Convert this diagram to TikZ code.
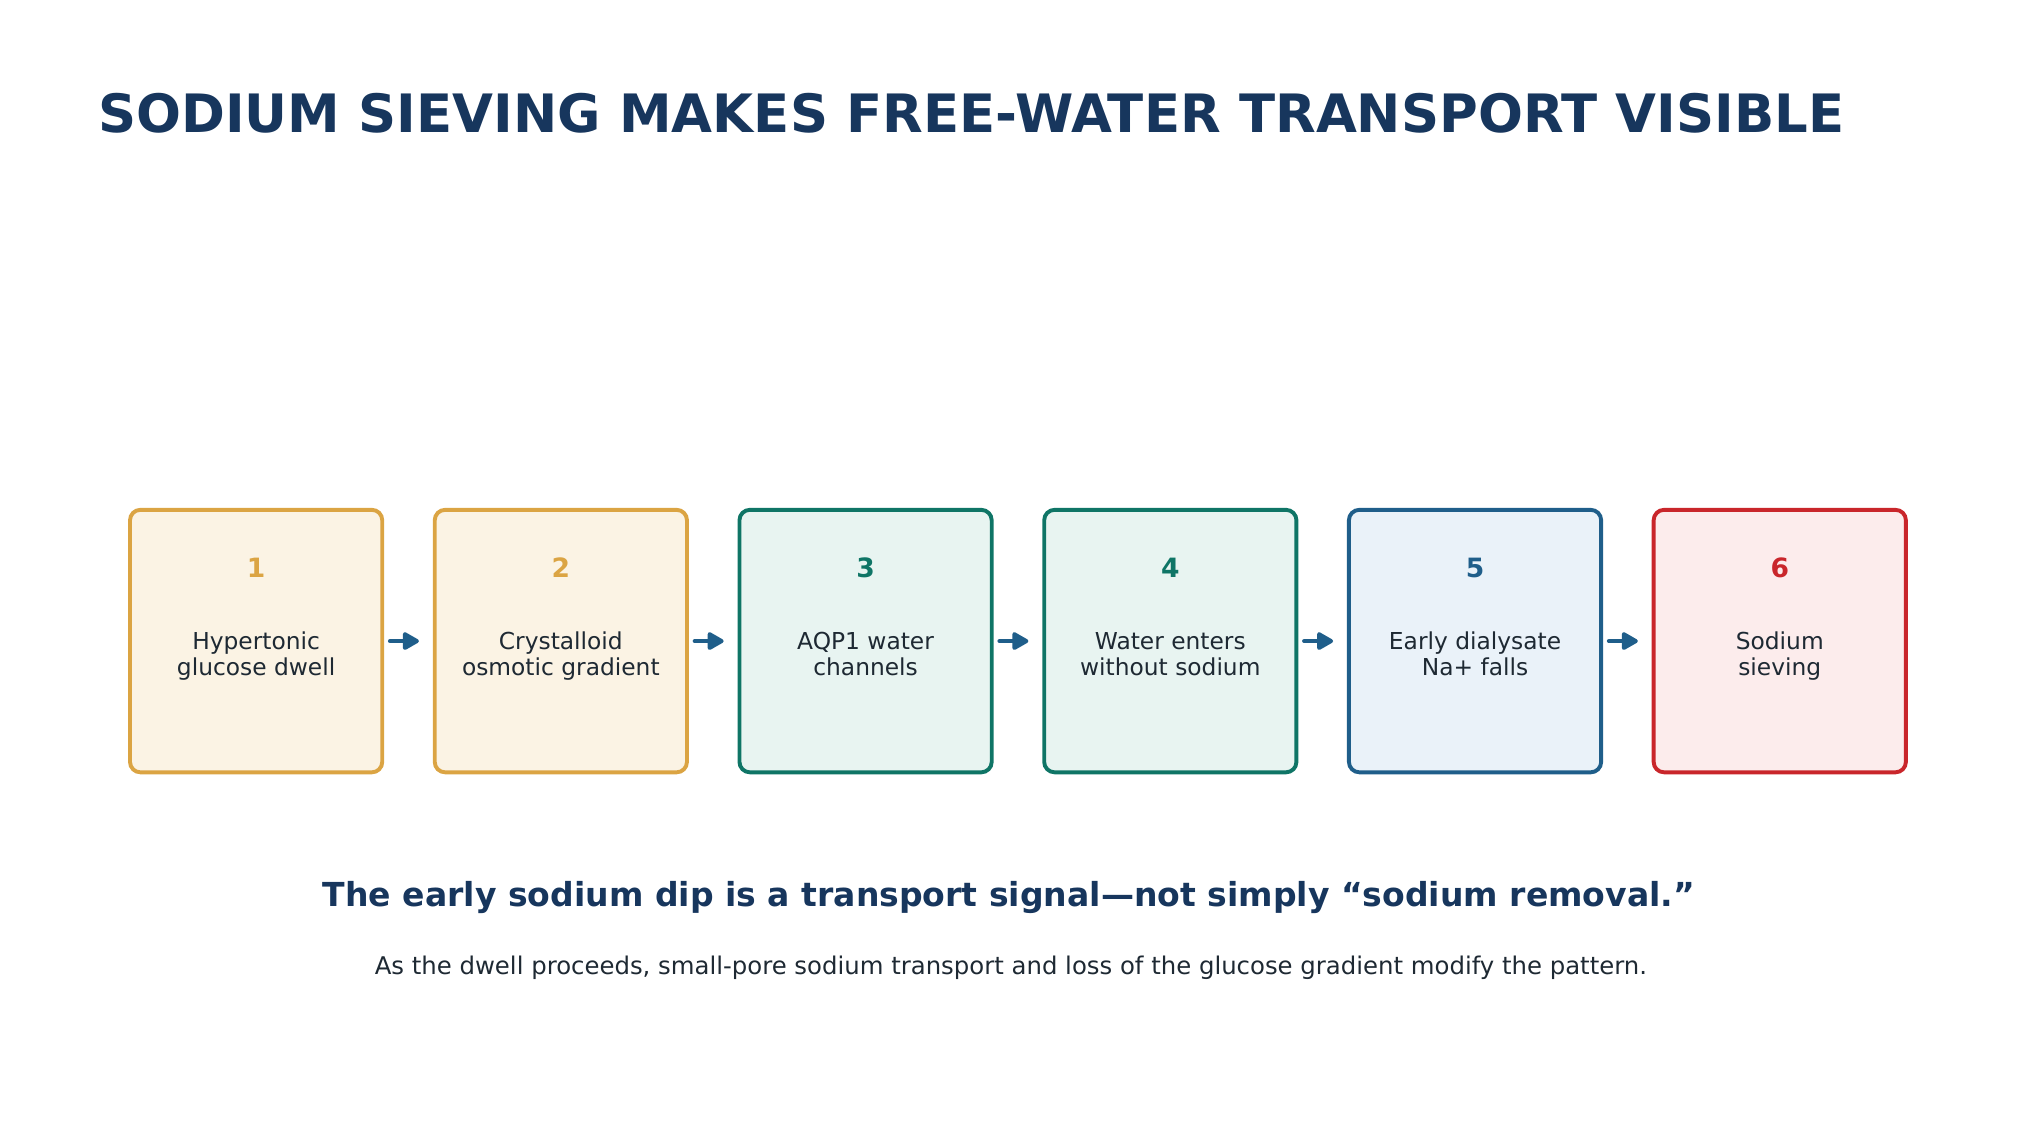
\documentclass[tikz,border=0pt]{standalone}
\usepackage{fontspec}
\setmainfont{DejaVu Sans}
\usetikzlibrary{arrows.meta}
\definecolor{navy}{RGB}{23,54,93}
\definecolor{ink}{RGB}{30,41,51}
\definecolor{gold}{RGB}{219,164,67}
\definecolor{goldbg}{RGB}{251,243,228}
\definecolor{teal}{RGB}{15,117,102}
\definecolor{tealbg}{RGB}{232,244,241}
\definecolor{steel}{RGB}{31,94,138}
\definecolor{steelbg}{RGB}{234,242,249}
\definecolor{brick}{RGB}{201,38,43}
\definecolor{brickbg}{RGB}{252,236,236}
\tikzset{
  stepbox/.style={draw=#1, fill=#1bg, line width=3pt, rounded corners=8pt,
    minimum width=194.6pt, minimum height=202.5pt},
  steptext/.style={anchor=base, text=ink, font=\fontsize{18}{20.3}\selectfont},
  flow/.style={draw=steel, line width=3pt, line cap=round,
    -{Triangle[length=14pt,width=15pt,round]}, shorten <=4.4pt, shorten >=10.7pt}
}
\begin{document}
\begin{tikzpicture}[x=1pt,y=-1pt]
  \useasboundingbox (0,0) rectangle (1560,885);
  \node[anchor=base west, inner sep=0pt, text=navy, font=\fontsize{40.8}{48}\selectfont\bfseries]
    (title) at (75.6,102) {SODIUM SIEVING MAKES FREE-WATER TRANSPORT VISIBLE};
  % boxes and step numbers
  \foreach \col [count=\n] in {gold,gold,teal,teal,steel,brick} {
       \node[stepbox=\col] (box\n) at ({197.6+235.1*(\n-1)},494.6) {};
       \node[anchor=base, text=\col, font=\fontsize{20.5}{24}\selectfont\bfseries]
         (num\n) at ({197.6+235.1*(\n-1)},445.5) {\n};
  }
  % step labels, two lines each
  \foreach \first/\second [count=\n] in {
        Hypertonic/glucose dwell,
        Crystalloid/osmotic gradient,
        AQP1 water/channels,
        Water enters/without sodium,
        Early dialysate/Na+ falls,
        Sodium/sieving
  } {
       \node[steptext] (labela\n) at ({197.6+235.1*(\n-1)},501) {\first};
       \node[steptext] (labelb\n) at ({197.6+235.1*(\n-1)},521.3) {\second};
  }
  \foreach \n in {2,...,6} {
       \pgfmathtruncatemacro\prev{\n-1}
       \draw[flow] (box\prev.east) -- (box\n.west);
  }
  \node[anchor=base, inner sep=0pt, text=navy, font=\fontsize{25.5}{30}\selectfont\bfseries]
    (claim) at (778.4,699.6) {The early sodium dip is a transport signal—not simply “sodium removal.”};
  \node[anchor=base, inner sep=0pt, text=ink, font=\fontsize{18.8}{22}\selectfont]
    (note) at (779.9,751.8) {As the dwell proceeds, small-pore sodium transport and loss of the glucose gradient modify the pattern.};
\end{tikzpicture}
\end{document}
